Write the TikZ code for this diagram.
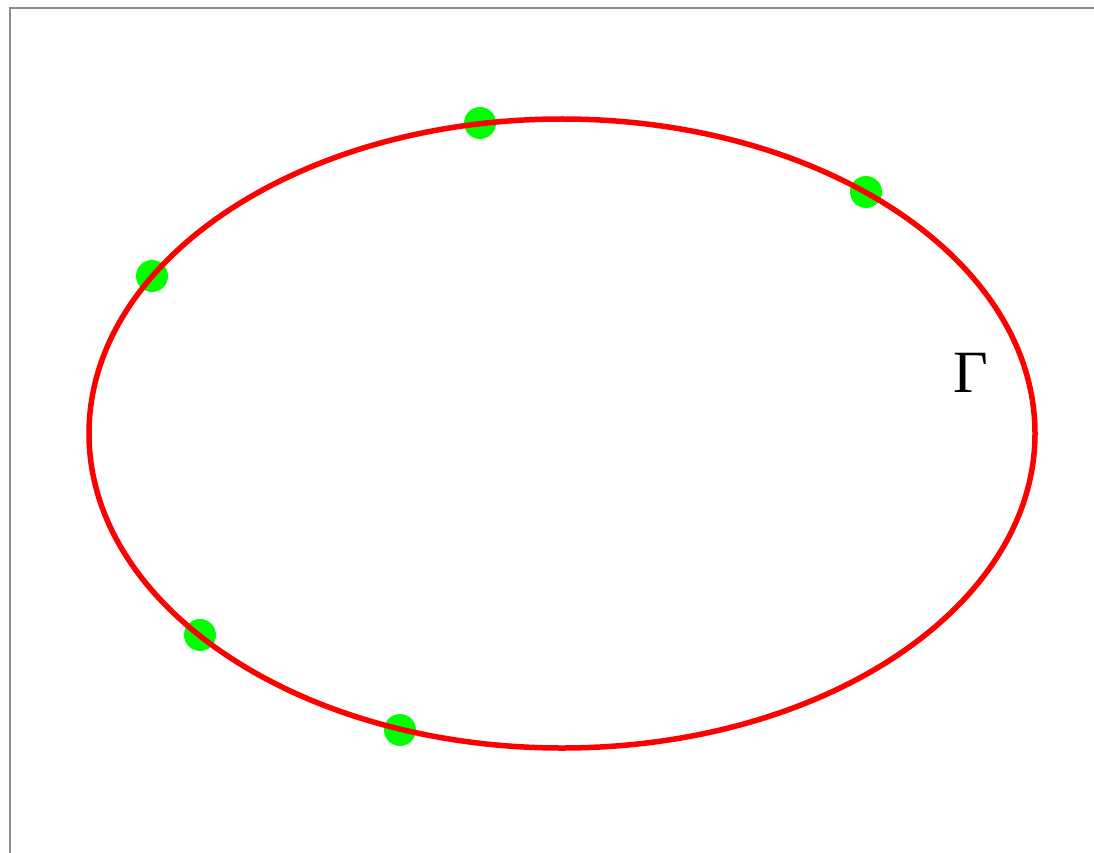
\documentclass[tikz,border=0pt]{standalone}
\usepackage{fontspec}
\setmainfont{Liberation Serif}
\begin{document}
\begin{tikzpicture}[x=1pt,y=-1pt,
  frameline/.style={draw=black!45,line width=1.5pt},
  curve/.style={draw=red,line width=5.5pt},
  ptdot/.style={circle,fill=green,inner sep=0pt,minimum size=32pt}]
\useasboundingbox (0,0) rectangle (1094,853);
\fill[white] (0,0) rectangle (1094,853);
\coordinate (tl) at (10,8);
\coordinate (tr) at (1094,8);
\coordinate (bl) at (10,853);
\draw[frameline] (tr) -- (tl) -- (bl);
\node[ptdot] (p1) at (480,123) {};
\node[ptdot] (p2) at (866,192) {};
\node[ptdot] (p3) at (152,276) {};
\node[ptdot] (p4) at (200,635) {};
\node[ptdot] (p5) at (400,730) {};
\draw[curve] (562,433.5) ellipse [x radius=473, y radius=314.5];
\node[font=\fontsize{60}{62}\selectfont,inner sep=0pt,anchor=base] (gamma) at (971,392) {Γ};
\end{tikzpicture}
\end{document}
